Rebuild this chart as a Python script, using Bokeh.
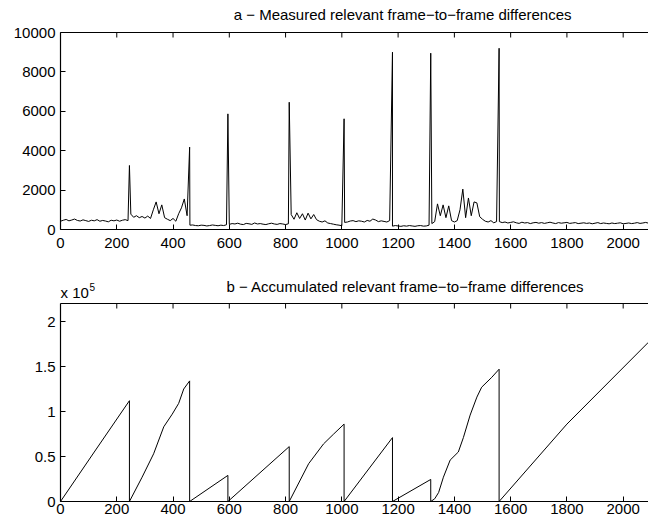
from bokeh.plotting import figure
from bokeh.layouts import column
from bokeh.models import LinearAxis, FixedTicker, Range1d, Label
from bokeh.embed import file_html
from bokeh.resources import INLINE

FONT = "Liberation Sans"

# ---------------- data ----------------
frame_step = 10  # frames between the sampled values below

shot1 = [420, 470, 510, 440, 480, 530, 460, 430, 490, 450, 410, 470, 440, 500,
         420, 460, 430, 390, 470, 440, 480, 420, 470, 500, 450]
shot2 = [780, 620, 700, 600, 660, 580, 680, 560, 1000, 1400, 800, 1250, 600,
         520, 450, 560, 420, 800, 1100, 1550, 700]
shot3 = [220, 230, 200, 190, 220, 210, 180, 200, 230, 210, 190, 220, 200, 240]
shot4 = [260, 300, 280, 320, 270, 250, 310, 290, 260, 330, 280, 300, 270, 250,
         290, 320, 280, 260, 300, 280, 250, 290]
shot5 = [760, 520, 850, 560, 800, 480, 830, 540, 760, 500, 420, 380, 440, 330,
         300, 270, 240, 220, 190]
shot6 = [360, 380, 430, 450, 400, 440, 420, 380, 460, 420, 530, 480, 400, 440,
         410, 380, 450]
shot7 = [170, 200, 180, 160, 190, 170, 200, 180, 160, 190, 200, 170, 180, 220]
shot8 = [300, 400, 1300, 700, 1250, 600, 1200, 450, 380, 450, 1000, 2050, 600,
         1600, 700, 1400, 1350, 650, 520, 420, 380, 450, 340, 400]
shot9 = [400, 350, 380, 330, 360, 390, 340, 310, 370, 330,
         350, 300, 340, 360, 320, 350, 310, 340, 370, 330,
         300, 350, 320, 340, 360, 310, 330, 350, 300, 320,
         340, 310, 330, 290, 320, 350, 300, 330, 310, 290,
         330, 300, 320, 340, 290, 310, 330, 300, 320, 350,
         310, 330, 360, 320]

cut_frames = [245, 459, 595, 813, 1008, 1180, 1316, 1559]
cut_peaks = [3250, 4180, 5870, 6460, 5620, 9000, 8950, 9200]

acc_frames = [0, 120, 245, 245, 290, 331, 367, 397, 420, 438, 459, 459,
              595, 595, 813, 813, 882, 935, 971, 1008, 1008, 1180, 1180,
              1316, 1316, 1330, 1344, 1361, 1385, 1414, 1432, 1456, 1480,
              1497, 1533, 1559, 1559, 1800, 2090]
acc_values = [0, 55000, 112000, 0, 27000, 53000, 83000, 97000, 109000, 125000,
              134000, 0, 29000, 0, 61000, 0, 42000, 64000, 75000, 86000, 0,
              71000, 0, 24500, 0, 3000, 10000, 27000, 46000, 55000, 71000,
              96000, 116000, 127000, 138000, 147000, 0, 86000, 177000]

x_ticks = [0, 200, 400, 600, 800, 1000, 1200, 1400, 1600, 1800, 2000]
top_y_ticks = [0, 2000, 4000, 6000, 8000, 10000]
bottom_y_ticks = [0, 50000, 100000, 150000, 200000]
bottom_y_labels = ["0", "0.5", "1", "1.5", "2"]

title_a = "a \u2212 Measured relevant frame\u2212to\u2212frame differences"
title_b = "b \u2212 Accumulated relevant frame\u2212to\u2212frame differences"
exp_base = "x 10"
exp_power = "5"

# build measured series: sampled values plus the cut spikes
values = shot1 + shot2 + shot3 + shot4 + shot5 + shot6 + shot7 + shot8 + shot9
pts = [(i * frame_step, 1, v) for i, v in enumerate(values)]
pts += [(f, 0, v) for f, v in zip(cut_frames, cut_peaks)]
pts.sort(key=lambda t: (t[0], t[1]))
diff_x = [q[0] for q in pts]
diff_y = [q[2] for q in pts]

X_END = 2090
TICK_PX = 5


def style_axis(ax, ticks, labels=None, standoff=4):
    ax.ticker = FixedTicker(ticks=ticks, minor_ticks=[])
    ax.major_tick_in = TICK_PX
    ax.major_tick_out = 0
    ax.minor_tick_in = 0
    ax.minor_tick_out = 0
    ax.axis_line_color = "black"
    ax.axis_line_width = 1.2
    ax.major_tick_line_color = "black"
    ax.major_tick_line_width = 1
    ax.major_label_text_font = FONT
    ax.major_label_text_color = "black"
    ax.major_label_text_font_size = "15px"
    ax.major_label_standoff = standoff
    if labels is not None:
        ax.major_label_overrides = {t: l for t, l in zip(ticks, labels)}


def text_label(text, x, y, y_off, align="left", size="15px", x_off=0):
    return Label(x=x, y=y, x_offset=x_off, y_offset=y_off, text=text,
                 text_align=align, text_baseline="alphabetic",
                 text_font=FONT, text_font_size=size, text_color="black")


def make_fig(ymax, yticks, ylabels, frame_h, top_border, bottom_border,
             xstandoff):
    p = figure(frame_width=588, frame_height=frame_h,
               x_range=Range1d(0, X_END), y_range=Range1d(0, ymax),
               output_backend="svg", toolbar_location=None,
               min_border_left=60, min_border_right=0,
               min_border_top=top_border, min_border_bottom=bottom_border,
               background_fill_color="white", border_fill_color="white")
    p.grid.visible = False
    p.outline_line_color = None
    style_axis(p.xaxis[0], x_ticks, standoff=xstandoff)
    style_axis(p.yaxis[0], yticks, ylabels, standoff=5)
    # top frame line (no ticks/labels on the axis itself)
    top_ax = LinearAxis(ticker=FixedTicker(ticks=[], minor_ticks=[]))
    top_ax.axis_line_color = "black"
    top_ax.axis_line_width = 1.2
    top_ax.major_label_standoff = 0
    top_ax.major_tick_out = 0
    top_ax.major_tick_in = 0
    p.add_layout(top_ax, "above")
    # inward ticks along the top edge, at the same x tick values
    tick_len = ymax * TICK_PX / frame_h
    p.segment(x0=x_ticks, x1=x_ticks, y0=[ymax] * len(x_ticks),
              y1=[ymax - tick_len] * len(x_ticks), line_color="black",
              line_width=1)
    return p


p1 = make_fig(10000, top_y_ticks, None, 197, 32, 30, 8)
p1.line(diff_x, diff_y, line_color="black", line_width=1)
p1.add_layout(text_label(title_a, 1216, 10000, 18, align="center"), "above")

p2 = make_fig(220000, bottom_y_ticks, bottom_y_labels, 198, 44, 25, 2)
p2.line(acc_frames, acc_values, line_color="black", line_width=1)
p2.add_layout(text_label(title_b, 1226, 220000, 17, align="center"), "above")
p2.add_layout(text_label(exp_base, 0, 220000, 11), "above")
p2.add_layout(text_label(exp_power, 0, 220000, 17, size="10px", x_off=29),
              "left")

layout = column(p1, p2, spacing=0)
open("out.html", "w").write(file_html(layout, INLINE))
